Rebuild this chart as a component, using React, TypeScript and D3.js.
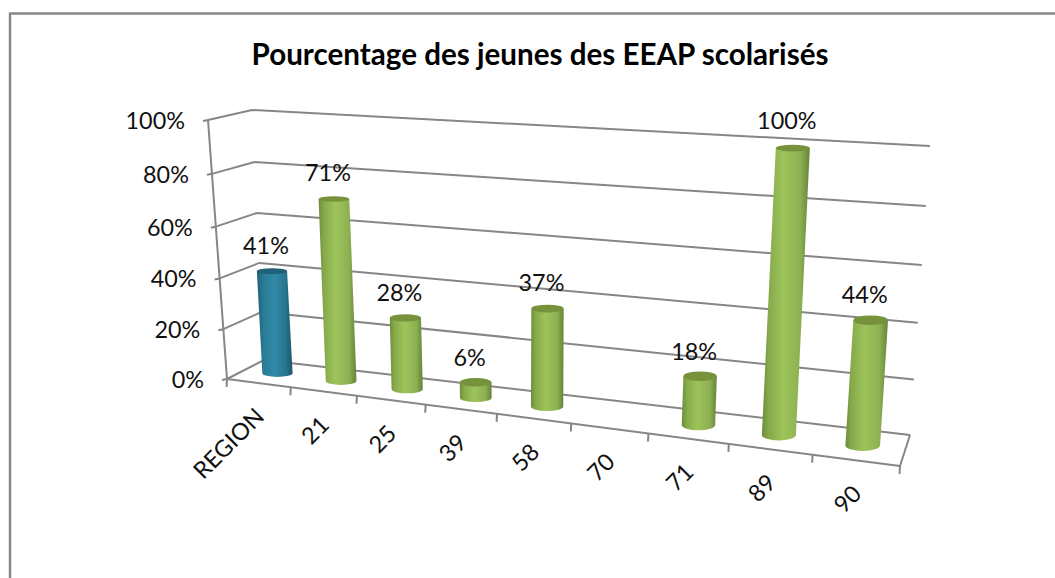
import React from "react";
import * as d3 from "d3";

const title = "Pourcentage des jeunes des EEAP scolarisés";
const categories = ["REGION", "21", "25", "39", "58", "70", "71", "89", "90"];
const values: (number | null)[] = [41, 71, 28, 6, 37, null, 18, 100, 44];
const highlighted = ["REGION"];
const yTicks = [0, 20, 40, 60, 80, 100];

const W = 1055, H = 578;
type P = [number, number];
// box corners: front/back, bottom/top, left/right
const FBL: P = [227, 379], FBR: P = [900, 466], BBL: P = [264, 360], BBR: P = [910, 435];
const FTL: P = [208, 120], FTR: P = [922, 166], BTL: P = [252, 110], BTR: P = [930, 146];

const lerp = (a: P, b: P, t: number): P => [a[0] + (b[0] - a[0]) * t, a[1] + (b[1] - a[1]) * t];
const persp = (s: number, r: number) => (s <= 0 ? 0 : s / (s + r * (1 - s)));

const catFrac = d3.scaleLinear().domain([0, categories.length]).range([0, 1]);
const valFrac = d3.scaleLinear().domain([0, 100]).range([0, 1]);
const along = (i: number) => persp(catFrac(i), 1.194);
const rise = (v: number) => persp(valFrac(v), 1.05);

// i: category coordinate, v: value, d: depth 0 front .. 1 back
function project(i: number, v: number, d: number): P {
  const f = along(i), h = rise(v);
  const bottom = lerp(lerp(FBL, FBR, f), lerp(BBL, BBR, f), d);
  const top = lerp(lerp(FTL, FTR, f), lerp(BTL, BTR, f), d);
  return lerp(bottom, top, h);
}
const seg = (a: P, b: P) => `M${a[0]},${a[1]}L${b[0]},${b[1]}`;

const GRID = "#868686";
const FONT = "Lato, Carlito, Calibri, sans-serif";
const LABEL = 23.4;
const BAR_DX = 1;

function Cylinder({ i, v, name }: { i: number; v: number; name: string }) {
  const c = i + 0.5;
  const f = along(c);
  const base = project(c, 0, 0.5);
  const top = project(c, v, 0.5);
  const rx = (30 + 5 * f) / 2;
  const ryB = 3.5 + 2.5 * f;
  const ryT = ryB * (1 - 0.4 * valFrac(v));
  const blue = highlighted.includes(name);
  const bx = base[0] + BAR_DX, tx = top[0] + BAR_DX;
  const body =
    `M${tx - rx},${top[1]}L${bx - rx},${base[1]}` +
    `A${rx},${ryB} 0 0 0 ${bx + rx},${base[1]}L${tx + rx},${top[1]}Z`;
  return (
    <g>
      <path d={body} fill={`url(#${blue ? "gBlue" : "gGreen"})`} />
      <ellipse cx={tx} cy={top[1]} rx={rx} ry={ryT} fill={blue ? "#1f6177" : "#76933c"} />
    </g>
  );
}

export default function App() {
  const gridPaths = yTicks.map((t) => {
    const a = project(0, t, 0), b = project(0, t, 1), c = project(categories.length, t, 1);
    return { t, d: seg([a[0] - 5, a[1] + 1], a) + seg(a, b) + seg(b, c) };
  });
  const n = categories.length;
  const floor = seg(project(n, 0, 0), project(n, 0, 1));
  const front = seg(project(0, 0, 0), project(n, 0, 0));
  const axis = seg(project(0, 0, 0), project(0, 100, 0));
  const xTicks = d3.range(n + 1).map((i) => {
    const p = project(i, 0, 0);
    return seg(p, [p[0] - 0.4, p[1] + 8]);
  });
  const order = d3.range(n);
  return (
    <svg width={W} height={H} style={{ position: "absolute", left: 0, top: 0, background: "#fff" }}>
      <defs>
        <linearGradient id="gGreen" x1="0" x2="1" y1="0" y2="0">
          <stop offset="0" stopColor="#6e8c3b" />
          <stop offset="0.14" stopColor="#86a94a" />
          <stop offset="0.45" stopColor="#9dc45b" />
          <stop offset="0.8" stopColor="#8db051" />
          <stop offset="1" stopColor="#66833a" />
        </linearGradient>
        <linearGradient id="gBlue" x1="0" x2="1" y1="0" y2="0">
          <stop offset="0" stopColor="#1f6177" />
          <stop offset="0.2" stopColor="#2a7c96" />
          <stop offset="0.5" stopColor="#3189a6" />
          <stop offset="0.8" stopColor="#28768f" />
          <stop offset="1" stopColor="#1c566a" />
        </linearGradient>
      </defs>
      <path d={`M10,${H}V13.5H${W}`} fill="none" stroke={GRID} strokeWidth={2.4} />
      <text x={540} y={65} textAnchor="middle" fontFamily={FONT} fontWeight={700} fontSize={29.6} fill="#000">
        {title}
      </text>
      <g fill="none" stroke={GRID} strokeWidth={2}>
        {gridPaths.map((g) => <path key={g.t} d={g.d} />)}
        <path d={floor} />
        <path d={front} />
        <path d={axis} />
        {xTicks.map((d, i) => <path key={i} d={d} />)}
      </g>
      {yTicks.map((t) => {
        const p = project(0, t, 0);
        return (
          <text key={t} x={p[0] - 23} y={p[1] + 9} textAnchor="end" fontFamily={FONT} fontSize={LABEL} fill="#111">
            {t}%
          </text>
        );
      })}
      {categories.map((c, i) => {
        const p = project(i + 0.5, 0, 0);
        const x = p[0] + 7, y = p[1] + 35;
        return (
          <text key={c} transform={`translate(${x},${y}) rotate(-45)`} textAnchor="end" fontFamily={FONT} fontSize={LABEL} fill="#111">
            {c}
          </text>
        );
      })}
      {order.map((i) => {
        const v = values[i];
        return v == null ? null : <Cylinder key={i} i={i} v={v} name={categories[i]} />;
      })}
      {order.map((i) => {
        const v = values[i];
        if (v == null) return null;
        const p = project(i + 0.5, v, 0.5);
        return (
          <text key={i} x={p[0] - 5} y={p[1] - 16 - 3 * valFrac(v)} textAnchor="middle" fontFamily={FONT} fontSize={LABEL} fill="#111">
            {v}%
          </text>
        );
      })}
    </svg>
  );
}
